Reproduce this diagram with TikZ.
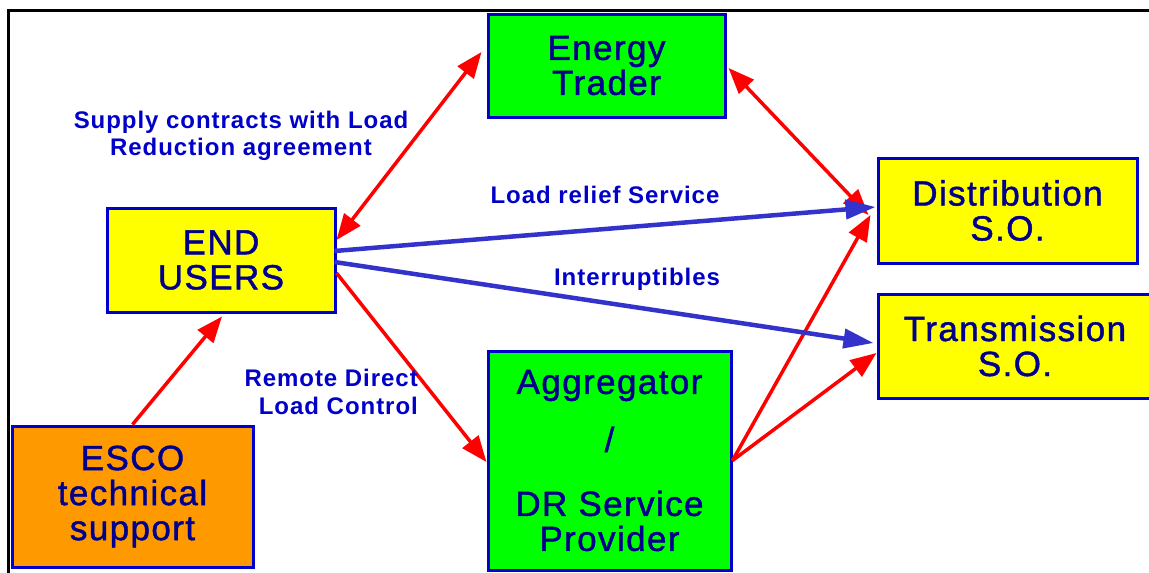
\documentclass[tikz,border=0pt]{standalone}
\usepackage{fontspec}
\setmainfont{Liberation Sans}
\newfontfamily\boxfont[LetterSpace=4,FakeBold=1.3]{Liberation Sans}
\newfontfamily\labfont[LetterSpace=4]{Liberation Sans}
\usetikzlibrary{arrows.meta,calc}
\definecolor{boxblue}{RGB}{0,0,204}
\definecolor{txtblue}{RGB}{0,0,140}
\definecolor{labblue}{RGB}{0,0,200}
\definecolor{arrblue}{RGB}{51,51,204}
\definecolor{myred}{RGB}{255,0,0}
\definecolor{myorange}{RGB}{255,153,0}
\definecolor{myyellow}{RGB}{255,255,0}
\definecolor{mygreen}{RGB}{0,255,0}
\tikzset{
  box/.style={draw=boxblue, line width=3pt, inner sep=0pt, align=center,
    text=txtblue, font=\boxfont\fontsize{35}{35}\selectfont},
  lab/.style={text=labblue, inner sep=0pt, align=center,
    font=\labfont\bfseries\fontsize{24}{27}\selectfont},
  redarr/.style={draw=myred, line width=3.5pt, -{Triangle[length=26pt,width=20pt]}},
  redboth/.style={draw=myred, line width=3.5pt, {Triangle[length=26pt,width=20pt]}-{Triangle[length=26pt,width=20pt]}},
  bluearr/.style={draw=arrblue, line width=4.5pt, -{Triangle[length=30pt,width=19pt]}}
}
\begin{document}
\begin{tikzpicture}[x=1pt,y=-1pt]
\useasboundingbox (0,0) rectangle (1149,573);
\clip (0,0) rectangle (1149,573);
\fill[white] (0,0) rectangle (1149,573);
\draw[line width=3pt] (8,600) -- (8,10) -- (1200,10);

\node[box, fill=mygreen, minimum width=237pt, minimum height=103pt] (et) at (606.5,65.5) {Energy\\Trader};
\node[box, fill=myyellow, minimum width=228pt, minimum height=104pt] (eu) at (221,260) {END\\USERS};
\node[box, fill=myyellow, minimum width=259pt, minimum height=105pt] (dso) at (1007.5,210.5) {Distribution\\S.O.};
\node[box, fill=myyellow, minimum width=274pt, minimum height=104pt] (tso) at (1015,346) {Transmission\\S.O.};
\node[box, fill=mygreen, minimum width=243pt, minimum height=219pt] (agg) at (609.5,460.5) {Aggregator\\[23pt]/\\[29pt]DR Service\\Provider};
\node[box, fill=myorange, minimum width=241pt, minimum height=141pt] (esco) at (132.5,496.5) {ESCO\\technical\\support};

\draw[redboth] ([yshift=20pt]eu.east) -- ([xshift=-5pt,yshift=13.5pt]et.west);
\draw[redboth] ([xshift=2pt,yshift=-2.5pt]et.east) -- ([xshift=-8pt,yshift=-4.5pt]dso.west);
\draw[redarr] ([yshift=-13pt]eu.east) -- ([yshift=-1.5pt]agg.west);
\draw[redarr] (esco.north) -- ([xshift=1pt,yshift=-3pt]eu.south);
\draw[redarr] (agg.east) -- ([xshift=-6pt,yshift=-4.5pt]dso.west);
\draw[redarr] (agg.east) -- ([yshift=-7pt]tso.west);
\draw[bluearr] ([xshift=-2pt,yshift=9pt]eu.east) -- ([xshift=-1pt,yshift=3.5pt]dso.west);
\draw[bluearr] ([xshift=-2pt,yshift=-2pt]eu.east) -- ([xshift=-3pt,yshift=3pt]tso.west);

\node[lab] (l1) at (241,136) {Supply contracts with Load\\Reduction agreement};
\node[lab, anchor=base] (l2) at (605,203) {Load relief Service};
\node[lab, anchor=base] (l3) at (637,285) {Interruptibles};
\node[lab, align=right, anchor=east, font=\labfont\bfseries\fontsize{24}{28}\selectfont] (l4) at (418,392) {Remote Direct\\Load Control};
\end{tikzpicture}
\end{document}
